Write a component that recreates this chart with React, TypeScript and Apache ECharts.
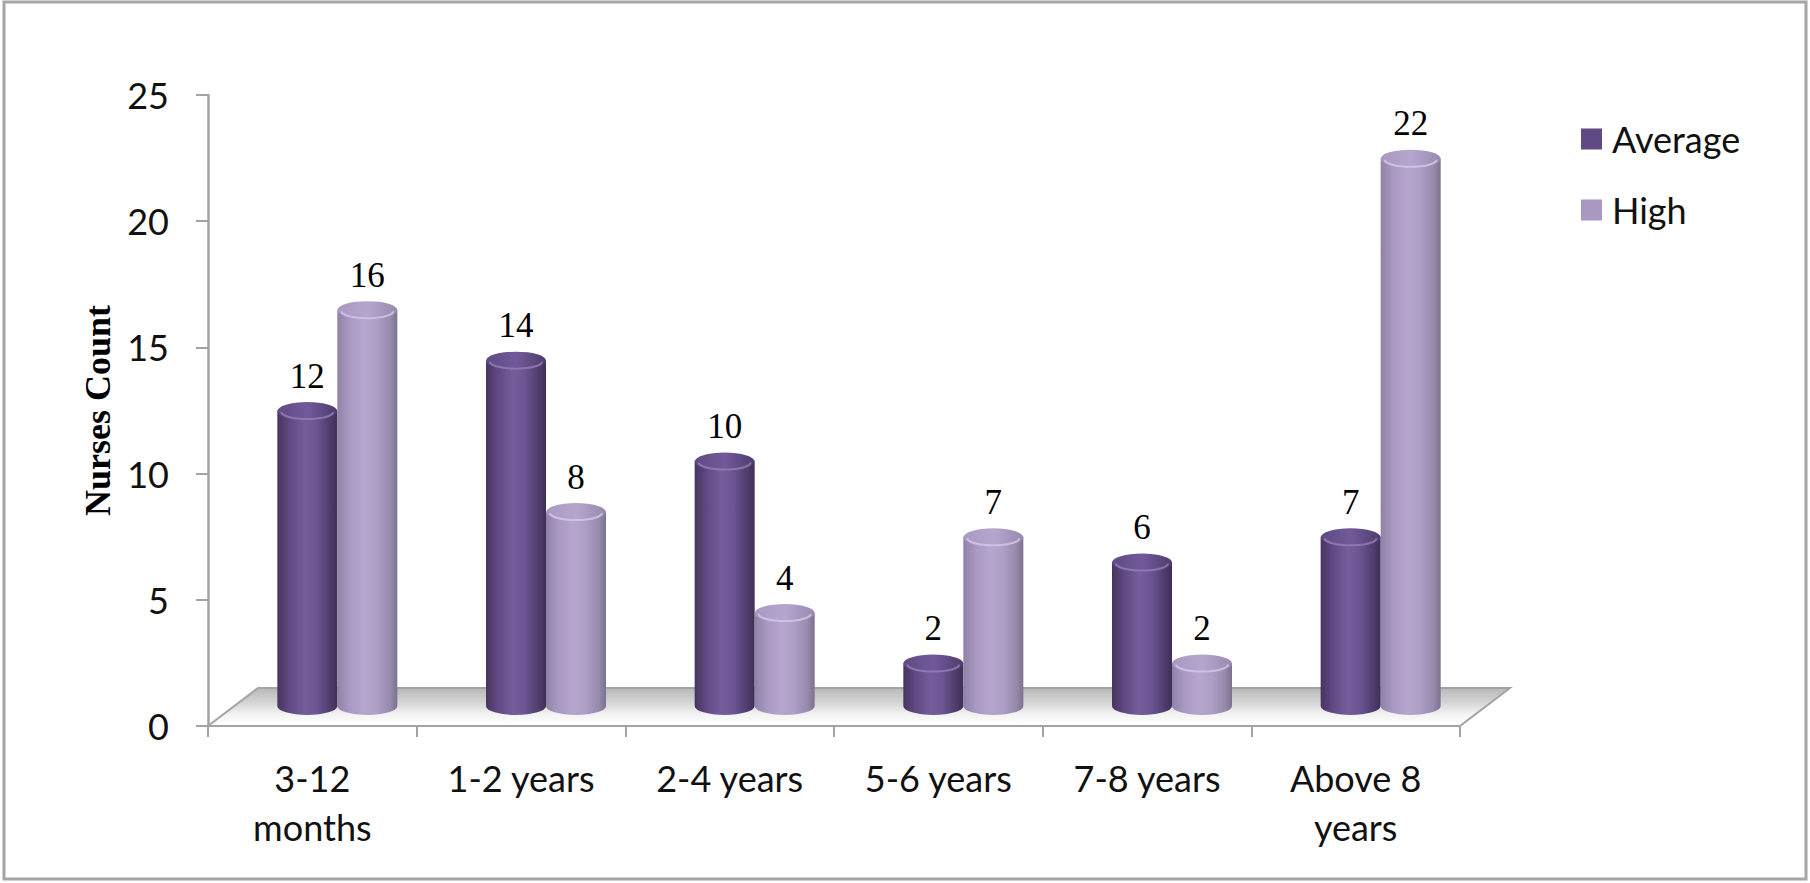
import React, { useEffect, useRef } from "react";
import * as echarts from "echarts";

const categories = ["3-12\nmonths", "1-2 years", "2-4 years", "5-6 years", "7-8 years", "Above 8\nyears"];
const seriesNames = ["Average", "High"];
const averageValues = [12, 14, 10, 2, 6, 7];
const highValues = [16, 8, 4, 7, 2, 22];
const yTicks = { min: 0, max: 25, interval: 5 };

const DEPTH_X = 50;
const DEPTH_Y = 38;
const BAR_W = 60;
const RY = 9;

const palettes = {
  Average: {
    legend: "#5f4a86",
    body: ["#47355f", "#5f4a84", "#755d9b", "#6c5592", "#4f3c6c", "#3f2f55"],
    top: "#725a9a",
    rim: "#9581b8",
  },
  High: {
    legend: "#a898c2",
    body: ["#8f82a6", "#a898c2", "#b5a6ce", "#ae9fc7", "#978aad", "#7c718f"],
    top: "#b5a6ce",
    rim: "#d4c9e6",
  },
};

function bodyGradient(cols: string[]) {
  const stops = [0, 0.2, 0.45, 0.65, 0.88, 1].map((o, k) => ({ offset: o, color: cols[k] }));
  return new echarts.graphic.LinearGradient(0, 0, 1, 0, stops);
}

function makeCylinderSeries(name: "Average" | "High", values: number[], offset: number) {
  const pal = palettes[name];
  return {
    type: "custom",
    name,
    itemStyle: { color: pal.legend },
    data: values.map((v, i) => [i, v]),
    encode: { x: 0, y: 1 },
    z: 5,
    renderItem: (params: any, api: any) => {
      const i = api.value(0);
      const v = api.value(1);
      const p = api.coord([i, v]);
      const p0 = api.coord([i, 0]);
      const c = p[0] + offset;
      const top = p[1] - 12;
      const base = p0[1] - 20;
      const l = c - BAR_W / 2;
      const r = c + BAR_W / 2;
      const rx = BAR_W / 2;
      const bodyPath = `M ${l} ${top} L ${l} ${base} A ${rx} ${RY} 0 0 0 ${r} ${base} L ${r} ${top} Z`;
      const topPath = `M ${l} ${top} A ${rx} ${RY} 0 0 0 ${r} ${top} A ${rx} ${RY} 0 0 0 ${l} ${top} Z`;
      const rimPath = `M ${l + 4} ${top + 1} A ${rx - 4} ${RY - 2} 0 0 0 ${r - 4} ${top + 1}`;
      return {
        type: "group",
        children: [
          { type: "path", shape: { pathData: bodyPath }, style: { fill: bodyGradient(pal.body) } },
          {
            type: "path",
            shape: { pathData: topPath },
            style: {
              fill: new echarts.graphic.LinearGradient(0, 0, 1, 0, [
                { offset: 0, color: pal.body[1] },
                { offset: 0.5, color: pal.top },
                { offset: 1, color: pal.body[4] },
              ]),
            },
          },
          { type: "path", shape: { pathData: rimPath }, style: { fill: "none", stroke: pal.rim, lineWidth: 2, opacity: 0.8 } },
          {
            type: "text",
            x: c,
            y: top - 35,
            style: {
              text: String(v),
              align: "center",
              verticalAlign: "middle",
              textAlign: "center",
              textVerticalAlign: "middle",
              fontSize: 35,
              fontFamily: '"Liberation Serif", "Times New Roman", serif',
              fill: "#000",
            },
          },
        ],
      };
    },
  };
}

const floorSeries = {
  type: "custom",
  name: "floor",
  data: [[0, 0]],
  encode: { x: 0, y: 1 },
  z: 2,
  silent: true,
  renderItem: (params: any, api: any) => {
    const first = api.coord([0, 0]);
    const last = api.coord([categories.length - 1, 0]);
    const bw = api.size([1, 0])[0];
    const x0 = first[0] - bw / 2;
    const x1 = last[0] + bw / 2;
    const y0 = first[1];
    const pts = [
      [x0, y0],
      [x1, y0],
      [x1 + DEPTH_X, y0 - DEPTH_Y],
      [x0 + DEPTH_X, y0 - DEPTH_Y],
    ];
    return {
      type: "polygon",
      shape: { points: pts },
      style: {
        fill: new echarts.graphic.LinearGradient(0, 0, 0, 1, [
          { offset: 0, color: "#b8b8b8" },
          { offset: 0.35, color: "#d2d2d2" },
          { offset: 0.7, color: "#f3f3f3" },
          { offset: 1, color: "#ffffff" },
        ]),
        stroke: "#a3a3a3",
        lineWidth: 2,
      },
    };
  },
};

export default function App() {
  const ref = useRef<HTMLDivElement>(null);
  useEffect(() => {
    if (!ref.current) return;
    const chart = echarts.init(ref.current, null, { renderer: "svg" });
    const labelFont = { fontFamily: "Lato, Calibri, sans-serif", fontSize: 36, color: "#111" };
    chart.setOption({
      animation: false,
      backgroundColor: "#ffffff",
      grid: { left: 208, right: 350, top: 95, bottom: 157 },
      graphic: [
        {
          type: "rect",
          silent: true,
          z: -10,
          shape: { x: 4, y: 2, width: 1802, height: 877 },
          style: { fill: "none", stroke: "#a5a5a5", lineWidth: 3 },
        },
      ],
      legend: {
        data: seriesNames,
        orient: "vertical",
        left: 1576,
        top: 114,
        itemWidth: 21,
        itemHeight: 21,
        itemGap: 31,
        icon: "rect",
        textStyle: { ...labelFont, lineHeight: 40, padding: [0, 0, 0, 5] },
      },
      xAxis: {
        type: "category",
        data: categories,
        boundaryGap: true,
        axisLine: { show: true, lineStyle: { color: "#a3a3a3", width: 2 } },
        axisTick: { show: true, length: 11, lineStyle: { color: "#a3a3a3", width: 2 } },
        axisLabel: { ...labelFont, lineHeight: 49, margin: 27, interval: 0 },
        splitLine: { show: false },
      },
      yAxis: {
        type: "value",
        min: yTicks.min,
        max: yTicks.max,
        interval: yTicks.interval,
        name: "Nurses Count",
        nameLocation: "middle",
        nameRotate: 90,
        nameGap: 92,
        nameTextStyle: {
          fontFamily: '"Liberation Serif", "Times New Roman", serif',
          fontWeight: "bold",
          fontSize: 36,
          color: "#000",
        },
        axisLine: { show: true, lineStyle: { color: "#a3a3a3", width: 2.5 } },
        axisTick: { show: true, length: 12, lineStyle: { color: "#a3a3a3", width: 2 } },
        axisLabel: { ...labelFont, margin: 39 },
        splitLine: { show: false },
      },
      series: [
        floorSeries,
        makeCylinderSeries("Average", averageValues, DEPTH_X / 2 - BAR_W / 2),
        makeCylinderSeries("High", highValues, DEPTH_X / 2 + BAR_W / 2),
      ],
    });
    return () => chart.dispose();
  }, []);
  return (
    <div
      ref={ref}
      style={{ position: "fixed", left: 0, top: 0, width: 1810, height: 883, background: "#fff" }}
    />
  );
}
